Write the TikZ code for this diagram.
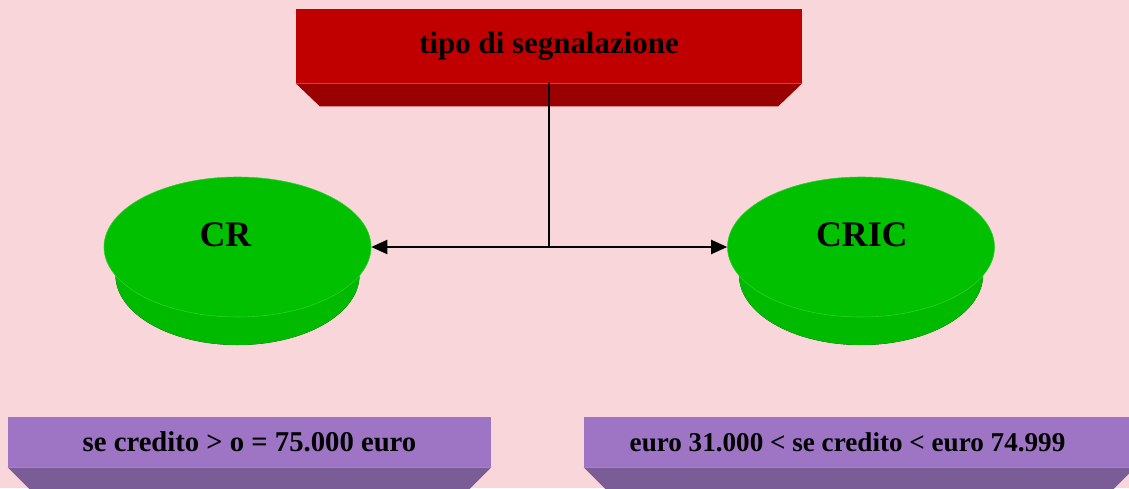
\documentclass[tikz,border=0pt]{standalone}
\usepackage{fontspec}
\setmainfont{Liberation Serif}
\usetikzlibrary{arrows.meta, positioning, shapes.geometric, calc}
\definecolor{backdrop}{HTML}{F9D6D9}
\definecolor{headtop}{HTML}{C00000}
\definecolor{headside}{HTML}{990000}
\definecolor{disctop}{HTML}{00C000}
\definecolor{discside}{HTML}{00BA00}
\definecolor{discdark}{HTML}{008C00}
\definecolor{notetop}{HTML}{9E74C4}
\definecolor{noteside}{HTML}{7A5C96}
\tikzset{
  slab/.style={
    fill=#1, draw=none, inner sep=0pt,
    font=\fontsize{20.4}{24}\selectfont\bfseries
  },
  slab/.default=notetop,
  disc/.style={
    ellipse, fill=disctop, draw=disctop!80!white, thin,
    minimum width=6.675cm, minimum height=3.5cm, inner sep=0pt
  },
  discbase/.style={left color=discside, middle color=discdark, right color=discside},
  disctext/.style={font=\fontsize{25.5}{30}\selectfont\bfseries, inner sep=0pt},
  link/.style={line width=1.4pt, black},
  darrow/.style={-{Triangle[length=4mm, width=3.5mm]}, line width=1.4pt, black}
}

\begin{document}
\begin{tikzpicture}
    \fill[backdrop] (0,0) rectangle (28.225,12.2);
    \clip (0,0) rectangle (28.225,12.2);

    % heading slab
    \node[slab=headtop, minimum width=12.65cm, minimum height=1.85cm,
          font=\fontsize{22}{26}\selectfont\bfseries] (tipo) at (13.725,11.05)
          {tipo di segnalazione};
    \fill[headside] (tipo.south west) -- (tipo.south east) -- ++(-0.6,-0.575)
      -- ($(tipo.south west)+(0.6,-0.575)$) -- cycle;

    % discs
    \coordinate (crc) at (5.9375,6.025);
    \coordinate (cricc) at (21.525,6.025);
    \fill[discbase] ($(crc)+(-3.3375,0)$) -- ++(0.2875,-0.7)
      arc[start angle=180, end angle=360, x radius=3.05cm, y radius=1.75cm]
      -- ($(crc)+(3.3375,0)$) -- cycle;
    \fill[discbase] ($(cricc)+(-3.3375,0)$) -- ++(0.2875,-0.7)
      arc[start angle=180, end angle=360, x radius=3.05cm, y radius=1.75cm]
      -- ($(cricc)+(3.3375,0)$) -- cycle;
    \node[disc] (cr) at (crc) {};
    \node[disc] (cric) at (cricc) {};
    \node[disctext] (crtext) at ($(cr.center)+(-0.3,0.3)$) {CR};
    \node[disctext] (crictext) at ($(cric.center)+(0.02,0.3)$) {CRIC};

    % threshold slabs
    \node[slab, minimum width=12.075cm, minimum height=1.25cm] (crnote)
      at (6.2375,1.15) {se credito > o = 75.000 euro};
    \fill[noteside] (crnote.south west) -- (crnote.south east) -- ++(-0.6,-0.6)
      -- ($(crnote.south west)+(0.6,-0.6)$) -- cycle;
    \node[slab, minimum width=13.775cm, minimum height=1.25cm] (cricnote)
      at (21.4875,1.15) {};
    \fill[noteside] (cricnote.south west) -- (cricnote.south east) -- ++(-0.6,-0.6)
      -- ($(cricnote.south west)+(0.6,-0.6)$) -- cycle;
    \node[font=\fontsize{19.3}{23}\selectfont\bfseries, inner sep=0pt] (cricrange)
      at (21.1875,1.15) {euro 31.000 < se credito < euro 74.999};

    % connectors
    \coordinate (hub) at (tipo.south |- cr.east);
    \draw[link] (tipo.south) -- (hub);
    \draw[darrow] (hub) -- (cr.east);
    \draw[darrow] (hub) -- (cric.west);
\end{tikzpicture}
\end{document}
